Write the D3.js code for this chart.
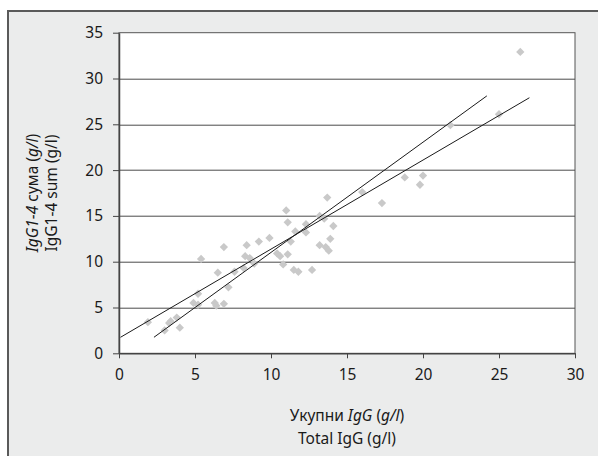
<!DOCTYPE html>
<html>
<head>
<meta charset="utf-8">
<script src="https://cdn.jsdelivr.net/npm/d3@7"></script>
<style>
  body { margin: 0; background: #fff; }
  svg text { font-family: "Noto Sans", "Open Sans", sans-serif; fill: #1a1a1a; }
</style>
</head>
<body>
<div class="chart"></div>
<script>
var w = 598;
var h = 456;

// total IgG (g/l)
var totalIgG = [1.9, 3.0, 3.3, 3.4, 3.8, 4.0,
  4.9, 5.2, 5.2, 5.4, 6.3, 6.4, 6.5, 6.9, 6.9, 7.2, 7.6,
  8.2, 8.3, 8.4, 8.6, 8.9, 9.2, 9.9,
  10.4, 10.6, 10.8, 11.0, 11.1, 11.1, 11.3, 11.5, 11.6, 11.8,
  12.3, 12.3, 12.7, 13.2, 13.2, 13.5, 13.6, 13.7, 13.8, 13.9, 14.1,
  16.0, 17.3, 18.8, 19.8, 20.0, 21.8, 25.0, 26.4];
// IgG1-4 sum (g/l)
var sumIgG = [3.4, 2.5, 3.3, 3.5, 3.9, 2.8,
  5.5, 6.5, 5.3, 10.3, 5.5, 5.2, 8.8, 5.4, 11.6, 7.2, 8.9,
  9.3, 10.6, 11.8, 10.4, 9.8, 12.2, 12.6,
  10.9, 10.6, 9.7, 15.6, 14.3, 10.8, 12.2, 9.1, 13.3, 8.9,
  14.1, 13.2, 9.1, 15.0, 11.8, 14.7, 11.6, 17.0, 11.2, 12.5, 13.9,
  17.6, 16.4, 19.2, 18.4, 19.4, 24.9, 26.1, 32.9];

// trend lines, endpoints
var lineA = [[0.1, 1.75], [27.0, 27.9]];
var lineB = [[2.3, 1.75], [24.2, 28.1]];

var xTicks = [0, 5, 10, 15, 20, 25, 30];
var yTicks = [0, 5, 10, 15, 20, 25, 30, 35];

var margin = {left: 119, right: 23, top: 32.7, bottom: 102.7};
var pw = w - margin.left - margin.right;
var ph = h - margin.top - margin.bottom;
var fs = "15.5px";

var svg = d3.select(".chart")
  .append("svg")
  .attr("width", w)
  .attr("height", h);

// outer frame
svg.append("rect")
  .attr("x", 8).attr("y", 11)
  .attr("width", w).attr("height", h)
  .attr("fill", "#ebecec")
  .attr("stroke", "#5a5a5a")
  .attr("stroke-width", 2);

var g = svg.append("g")
  .attr("transform", "translate(" + margin.left + "," + margin.top + ")");

var xScale = d3.scaleLinear().domain([0, 30]).range([0, pw]);
var yScale = d3.scaleLinear().domain([0, 35]).range([ph, 0]);

g.append("rect")
  .attr("width", pw).attr("height", ph)
  .attr("fill", "#fff")
  .attr("stroke", "#555")
  .attr("stroke-width", 1);

// gridlines
g.selectAll(".grid")
  .data(yTicks.slice(1, -1))
  .enter()
  .append("line")
  .attr("class", "grid")
  .attr("x1", 0).attr("x2", pw)
  .attr("y1", d => Math.round(yScale(d)) + 0.5)
  .attr("y2", d => Math.round(yScale(d)) + 0.5)
  .attr("stroke", "#4a4a4a")
  .attr("stroke-width", 1);

var xAxis = d3.axisBottom(xScale).tickValues(xTicks).tickSize(5).tickSizeOuter(0).tickPadding(11);
var yAxis = d3.axisLeft(yScale).tickValues(yTicks).tickSize(6).tickSizeOuter(0).tickPadding(10);

var xg = g.append("g").attr("transform", "translate(0," + ph + ")").call(xAxis);
var yg = g.append("g").call(yAxis);
[xg, yg].forEach(function (a) {
  a.select(".domain").attr("stroke", "#444").attr("stroke-width", 1.5);
  a.selectAll(".tick line").attr("stroke", "#444");
  a.selectAll(".tick text").style("font-size", fs).attr("fill", "#1a1a1a");
});

// points
g.selectAll(".pt")
  .data(totalIgG)
  .enter()
  .append("path")
  .attr("class", "pt")
  .attr("d", d3.symbol().type(d3.symbolDiamond2).size(44))
  .attr("transform", (d, i) => "translate(" + xScale(d) + "," + yScale(sumIgG[i]) + ")")
  .attr("fill", "#c9c9c9");

var line = d3.line().x(d => xScale(d[0])).y(d => yScale(d[1]));
[lineA, lineB].forEach(function (l) {
  g.append("path")
    .attr("d", line(l))
    .attr("fill", "none")
    .attr("stroke", "#1a1a1a")
    .attr("stroke-width", 1);
});

// axis titles
var cx = margin.left + pw / 2;
var xt = svg.append("text")
  .attr("x", cx).attr("y", 421)
  .attr("text-anchor", "middle")
  .style("font-size", fs);
xt.append("tspan").text("Укупни ");
xt.append("tspan").style("font-style", "italic").text("IgG");
xt.append("tspan").text(" (");
xt.append("tspan").style("font-style", "italic").text("g/l");
xt.append("tspan").text(")");

svg.append("text")
  .attr("x", cx).attr("y", 444)
  .attr("text-anchor", "middle")
  .style("font-size", fs)
  .text("Total IgG (g/l)");

var cy = margin.top + ph / 2;
var yt = svg.append("text")
  .attr("transform", "translate(38," + cy + ") rotate(-90)")
  .attr("text-anchor", "middle")
  .style("font-size", fs);
yt.append("tspan").style("font-style", "italic").text("IgG1-4");
yt.append("tspan").text(" сума (");
yt.append("tspan").style("font-style", "italic").text("g/l");
yt.append("tspan").text(")");

svg.append("text")
  .attr("transform", "translate(57," + cy + ") rotate(-90)")
  .attr("text-anchor", "middle")
  .style("font-size", fs)
  .text("IgG1-4 sum (g/l)");
</script>
</body>
</html>
